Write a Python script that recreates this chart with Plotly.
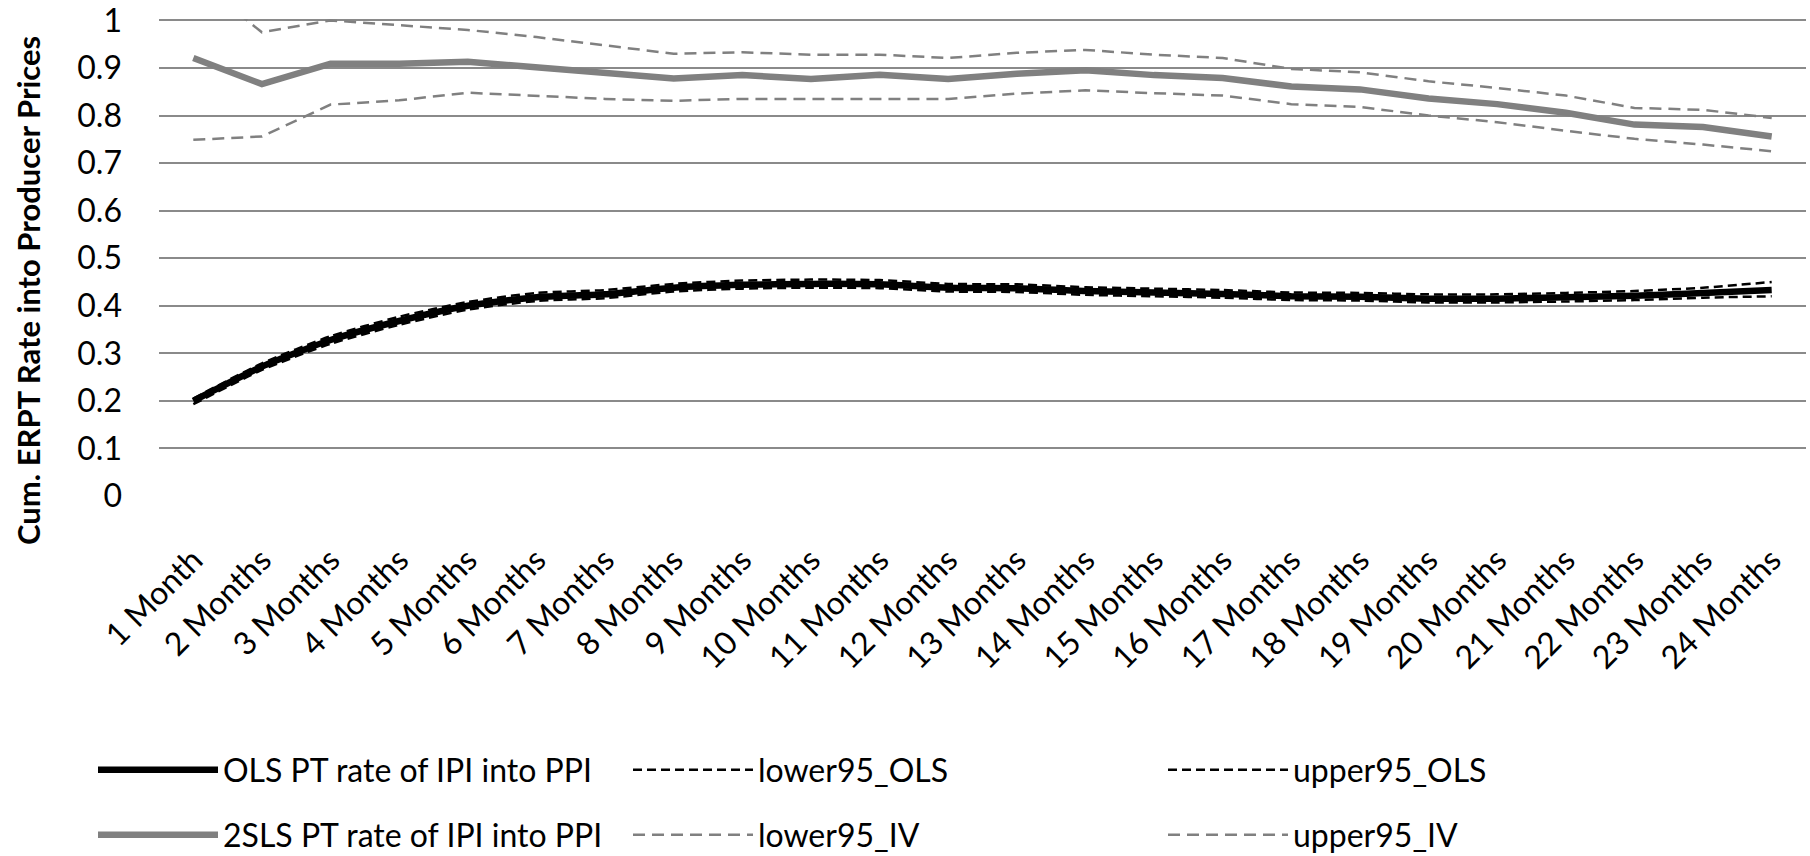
import plotly.graph_objects as go

categories = ["1 Month"] + [f"{i} Months" for i in range(2, 25)]

ols_pt = [0.200, 0.272, 0.328, 0.368, 0.400, 0.418, 0.424, 0.438, 0.444, 0.446, 0.445, 0.438,
          0.437, 0.431, 0.428, 0.425, 0.420, 0.419, 0.415, 0.415, 0.418, 0.421, 0.427, 0.433]
lower95_ols = [0.193, 0.265, 0.320, 0.360, 0.392, 0.410, 0.416, 0.430, 0.436, 0.438, 0.437, 0.430,
               0.429, 0.423, 0.420, 0.417, 0.412, 0.411, 0.407, 0.407, 0.409, 0.412, 0.417, 0.420]
upper95_ols = [0.205, 0.279, 0.336, 0.377, 0.408, 0.427, 0.433, 0.446, 0.453, 0.455, 0.454, 0.446,
               0.445, 0.439, 0.436, 0.433, 0.428, 0.427, 0.424, 0.424, 0.427, 0.431, 0.438, 0.450]

sls_pt = [0.921, 0.866, 0.909, 0.909, 0.913, 0.902, 0.891, 0.878, 0.885, 0.877, 0.886, 0.877,
          0.888, 0.895, 0.885, 0.879, 0.861, 0.855, 0.836, 0.824, 0.806, 0.781, 0.776, 0.756]
lower95_iv = [0.749, 0.756, 0.823, 0.832, 0.848, 0.841, 0.835, 0.831, 0.835, 0.835, 0.835, 0.835,
              0.846, 0.853, 0.847, 0.842, 0.824, 0.818, 0.800, 0.786, 0.768, 0.751, 0.739, 0.725]
upper95_iv = [1.090, 0.975, 1.000, 0.990, 0.980, 0.965, 0.947, 0.930, 0.933, 0.928, 0.928, 0.921,
              0.932, 0.938, 0.928, 0.921, 0.898, 0.891, 0.872, 0.858, 0.842, 0.816, 0.812, 0.795]

y_ticks = [0, 0.1, 0.2, 0.3, 0.4, 0.5, 0.6, 0.7, 0.8, 0.9, 1]
y_tick_labels = ["0", "0.1", "0.2", "0.3", "0.4", "0.5", "0.6", "0.7", "0.8", "0.9", "1"]

FONT = "Lato, 'Open Sans', sans-serif"
GRAY = "#808080"

fig = go.Figure()

def add(name, y, color, width, dash, shape, legend):
    fig.add_trace(go.Scatter(
        x=categories, y=y, name=name, mode="lines",
        line=dict(color=color, width=width, dash=dash, shape=shape, smoothing=0.6),
        legend=legend, hoverinfo="skip"))

# row 1 legend
add("OLS PT rate of IPI into PPI", ols_pt, "black", 6.5, "solid", "spline", "legend")
add("lower95_OLS", lower95_ols, "black", 2.5, "9px,5px", "spline", "legend")
add("upper95_OLS", upper95_ols, "black", 2.5, "9px,5px", "spline", "legend")
# row 2 legend
add("2SLS PT rate of IPI into PPI", sls_pt, GRAY, 6.5, "solid", "linear", "legend2")
add("lower95_IV", lower95_iv, GRAY, 2.5, "12px,7px", "linear", "legend2")
add("upper95_IV", upper95_iv, GRAY, 2.5, "12px,7px", "linear", "legend2")

legend_common = dict(
    orientation="h", xref="container", yref="container",
    xanchor="left", yanchor="middle",
    entrywidth=400, entrywidthmode="pixels", itemwidth=120,
    font=dict(family=FONT, size=32, color="black"),
    bgcolor="rgba(0,0,0,0)", traceorder="normal",
)

fig.update_layout(
    width=1810, height=856,
    margin=dict(l=159, r=4, t=19, b=360, autoexpand=False),
    paper_bgcolor="white", plot_bgcolor="white",
    font=dict(family=FONT, size=32, color="black"),
    showlegend=True,
    legend=dict(x=93 / 1810, y=(856 - 770) / 856, **legend_common),
    legend2=dict(x=93 / 1810, y=(856 - 835) / 856, **legend_common),
    xaxis=dict(
        type="category", range=[-0.5, 23.5], showgrid=False, showline=False,
        zeroline=False, tickangle=-45, ticks="", ticklabelstandoff=38,
        automargin=False,
        tickfont=dict(family=FONT, size=32, color="black"),
    ),
    yaxis=dict(
        range=[0, 1.003], tickvals=y_ticks, ticktext=y_tick_labels,
        showgrid=True, gridcolor="#8a8a8a",
        gridwidth=2.2, zeroline=False, showline=False, ticks="",
        ticklabelstandoff=36, ticklabeloverflow="allow", automargin=False,
        tickfont=dict(family=FONT, size=32, color="black"),
    ),
    annotations=[dict(
        text="<b>Cum. ERPT Rate into Producer Prices</b>",
        textangle=-90, xref="paper", yref="paper",
        x=(28 - 159) / 1647, y=(496 - 291) / 477,
        xanchor="center", yanchor="middle", showarrow=False,
        font=dict(family=FONT, size=31, color="black"),
    )],
)

fig.write_html(
    "out.html",
    config={"displayModeBar": False},
    post_script="document.body.style.margin='0';document.body.style.overflow='hidden';",
)
